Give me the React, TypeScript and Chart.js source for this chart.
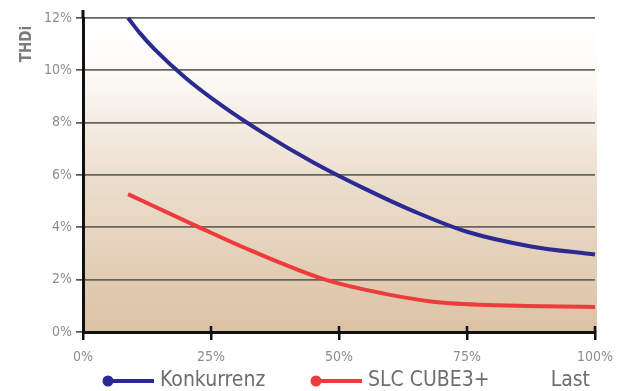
import React, { useEffect, useRef } from 'react';
import { Chart, registerables } from 'chart.js';

Chart.register(...registerables);

// ---- data ----
const seriesNames = ['Konkurrenz', 'SLC CUBE3+'];
const konkurrenzLoad = [8.8, 11, 14, 20, 27, 35, 45, 55, 65, 75, 87.5, 100];
const konkurrenzTHDi = [12, 11.45, 10.8, 9.72, 8.67, 7.63, 6.48, 5.48, 4.58, 3.83, 3.27, 2.96];
const slcLoad = [8.8, 22.7, 32.6, 47.3, 55.5, 68.4, 81.4, 100];
const slcTHDi = [5.27, 4.0, 3.13, 2.0, 1.6, 1.16, 1.02, 0.96];
const xTickValues = [0, 25, 50, 75, 100];
const yTickValues = [0, 2, 4, 6, 8, 10, 12];
const yAxisTitle = 'THDi';
const xAxisTitle = 'Last';
const seriesColors = ['#2a2a92', '#ee3b3b'];

const FAMILY = '"DejaVu Sans"';
const W = 625;
const H = 391;

const decorPlugin = {
  id: 'decor',
  beforeDraw(chart: any) {
    const { ctx, chartArea } = chart;
    const y = chart.scales.y;
    const g = ctx.createLinearGradient(0, chartArea.top, 0, chartArea.bottom);
    const whiteStop = (y.getPixelForValue(10) - chartArea.top) / (chartArea.bottom - chartArea.top);
    g.addColorStop(0, '#ffffff');
    g.addColorStop(whiteStop, '#fdfbf8');
    g.addColorStop(0.5, '#ecdfcf');
    g.addColorStop(1, '#dcc2a4');
    ctx.save();
    ctx.fillStyle = g;
    ctx.fillRect(chartArea.left, chartArea.top, chartArea.right - chartArea.left + 2, chartArea.bottom - chartArea.top);
    ctx.restore();
  },
  afterDraw(chart: any) {
    const { ctx, chartArea } = chart;
    const x = chart.scales.x;
    ctx.save();
    ctx.strokeStyle = '#111111';
    ctx.lineWidth = 3;
    ctx.beginPath();
    ctx.moveTo(chartArea.left, chartArea.top - 8);
    ctx.lineTo(chartArea.left, chartArea.top);
    ctx.stroke();
    ctx.lineWidth = 2.5;
    xTickValues.slice(1).forEach((v) => {
      const px = x.getPixelForValue(v);
      ctx.beginPath();
      ctx.moveTo(px, chartArea.bottom - 6);
      ctx.lineTo(px, chartArea.bottom);
      ctx.stroke();
    });

    ctx.fillStyle = '#7b7b7b';
    ctx.font = `bold condensed 15px ${FAMILY}`;
    ctx.translate(27, 44);
    ctx.rotate(-Math.PI / 2);
    ctx.textAlign = 'center';
    ctx.textBaseline = 'middle';
    ctx.fillText(yAxisTitle, 0, 0);
    ctx.restore();

    ctx.save();
    ctx.fillStyle = '#6e6e6e';
    ctx.font = `condensed 21px ${FAMILY}`;
    ctx.textAlign = 'right';
    ctx.textBaseline = 'alphabetic';
    ctx.fillText(xAxisTitle, 590, 386);

    const legendX = [108, 316];
    chart.data.datasets.forEach((ds: any, i: number) => {
      const lx = legendX[i];
      const ly = 381;
      ctx.strokeStyle = ds.borderColor;
      ctx.fillStyle = ds.borderColor;
      ctx.lineWidth = 4;
      ctx.beginPath();
      ctx.moveTo(lx, ly);
      ctx.lineTo(lx + 46, ly);
      ctx.stroke();
      ctx.beginPath();
      ctx.arc(lx, ly, 5.5, 0, Math.PI * 2);
      ctx.fill();
      ctx.fillStyle = '#6e6e6e';
      ctx.font = `condensed 21px ${FAMILY}`;
      ctx.textAlign = 'left';
      ctx.textBaseline = 'middle';
      ctx.fillText(ds.label, lx + 52, ly);
    });
    ctx.restore();
  },
};

export default function App() {
  const ref = useRef<HTMLCanvasElement | null>(null);

  useEffect(() => {
    if (!ref.current) return;
    const chart = new Chart(ref.current, {
      type: 'line',
      data: {
        datasets: [
          {
            label: seriesNames[0],
            data: konkurrenzLoad.map((v, i) => ({ x: v, y: konkurrenzTHDi[i] })),
            borderColor: seriesColors[0],
            borderWidth: 4,
            pointRadius: 0,
            cubicInterpolationMode: 'monotone',
            fill: false,
          },
          {
            label: seriesNames[1],
            data: slcLoad.map((v, i) => ({ x: v, y: slcTHDi[i] })),
            borderColor: seriesColors[1],
            borderWidth: 4,
            pointRadius: 0,
            cubicInterpolationMode: 'monotone',
            fill: false,
          },
        ],
      },
      options: {
        responsive: false,
        animation: false,
        clip: false as any,
        layout: { padding: { left: 0, top: 18, right: 30, bottom: 0 } },
        plugins: { legend: { display: false }, tooltip: { enabled: false } },
        scales: {
          x: {
            type: 'linear',
            min: 0,
            max: 100,
            afterBuildTicks: (s: any) => {
              s.ticks = xTickValues.map((v) => ({ value: v }));
            },
            afterFit: (s: any) => {
              s.height = H - 332;
            },
            ticks: {
              callback: (v: any) => v + '%',
              color: '#8d8d8d',
              font: { family: FAMILY, size: 14, weight: 'condensed' },
              padding: 9,
              maxRotation: 0,
              autoSkip: false,
            },
            grid: { drawOnChartArea: false, tickLength: 8, color: '#111111', lineWidth: 2.5 },
            border: { color: '#111111', width: 3 },
          },
          y: {
            type: 'linear',
            min: 0,
            max: 12,
            afterBuildTicks: (s: any) => {
              s.ticks = yTickValues.map((v) => ({ value: v }));
            },
            afterFit: (s: any) => {
              s.width = 83;
            },
            ticks: {
              callback: (v: any) => v + '%',
              color: '#8d8d8d',
              font: { family: FAMILY, size: 14, weight: 'condensed' },
              padding: 4,
            },
            grid: { color: '#68635e', lineWidth: 1.7, tickLength: 7, tickColor: '#555555' },
            border: { color: '#111111', width: 3 },
          },
        },
      },
      plugins: [decorPlugin],
    } as any);
    return () => chart.destroy();
  }, []);

  return (
    <div style={{ position: 'absolute', left: 0, top: 0, width: W, height: H, background: '#ffffff' }}>
      <canvas ref={ref} width={W} height={H} style={{ width: W, height: H, display: 'block' }} />
    </div>
  );
}
